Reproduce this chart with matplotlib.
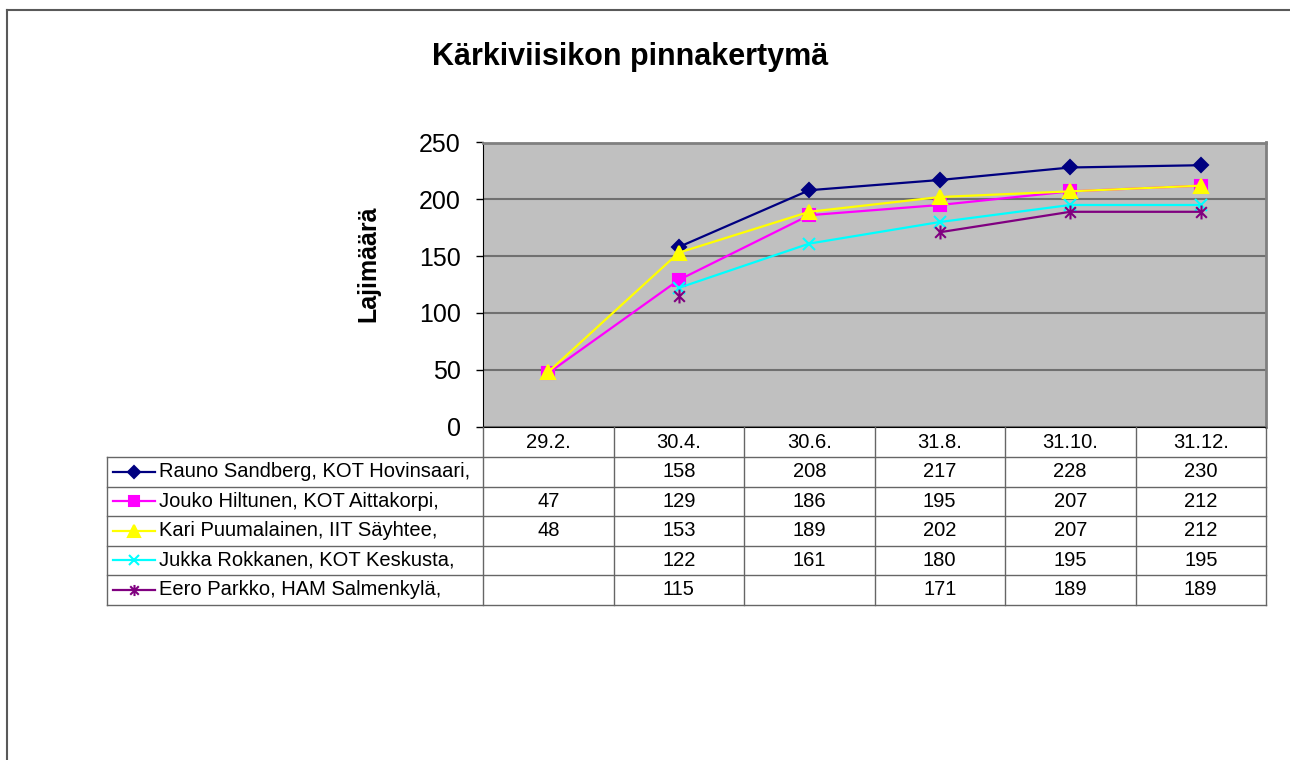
import numpy as np
import matplotlib.pyplot as plt
from matplotlib.path import Path
from matplotlib.lines import Line2D
from matplotlib.transforms import blended_transform_factory

plt.rcParams['font.family'] = ['Liberation Sans', 'DejaVu Sans']

dates = ['29.2.', '30.4.', '30.6.', '31.8.', '31.10.', '31.12.']
names = ['Rauno Sandberg, KOT Hovinsaari,',
         'Jouko Hiltunen, KOT Aittakorpi,',
         'Kari Puumalainen, IIT Säyhtee,',
         'Jukka Rokkanen, KOT Keskusta,',
         'Eero Parkko, HAM Salmenkylä,']
rauno = [np.nan, 158, 208, 217, 228, 230]
jouko = [47, 129, 186, 195, 207, 212]
kari = [48, 153, 189, 202, 207, 212]
jukka = [np.nan, 122, 161, 180, 195, 195]
eero = [np.nan, 115, np.nan, 171, 189, 189]
series = [rauno, jouko, kari, jukka, eero]

colors = ['#000080', '#FF00FF', '#FFFF00', '#00FFFF', '#800080']
star = Path([(-1, -1), (1, 1), (-1, 1), (1, -1), (0, -1.3), (0, 1.3)],
            [Path.MOVETO, Path.LINETO] * 3)
markers = ['D', 's', '^', 'x', star]
msizes = [7.5, 8.5, 10, 9, 10]

W, H = 1290, 760


def fx(px):
    return px / W


def fy(py):
    return 1 - py / H


fig = plt.figure(figsize=(12.9, 7.6), dpi=100)
ax = fig.add_axes([fx(483), fy(426.5), fx(1266) - fx(483), fy(142.5) - fy(426.5)])
ax.set_facecolor('#C0C0C0')

x = np.arange(len(dates))
for vals, c, m, ms in zip(series, colors, markers, msizes):
    ax.plot(x, vals, color=c, lw=1.6, marker=m, ms=ms, mfc=c, mec=c,
            mew=1.5, clip_on=False, zorder=3)

ax.set_xlim(-0.5, len(dates) - 0.5)
ax.set_ylim(0, 250)
ax.set_yticks(range(0, 251, 50))
ax.set_xticks([])
ax.yaxis.grid(True, color='#707070', lw=1.5)
ax.set_axisbelow(True)
ax.tick_params(axis='y', direction='out', length=5, width=1, labelsize=18, pad=11)
ax.spines['left'].set_color('black')
ax.spines['bottom'].set_color('black')
for s in ['top', 'right']:
    ax.spines[s].set_color('#808080')
    ax.spines[s].set_linewidth(2)

fig.text(fx(630), fy(57), 'Kärkiviisikon pinnakertymä', ha='center', va='center',
         fontsize=22, fontweight='bold')
fig.text(fx(368), fy(264), 'Lajimäärä', rotation=90, ha='center', va='center',
         fontsize=18, fontweight='bold')

# data table below the plot
bt = blended_transform_factory(ax.transData, fig.transFigure)
row_edges = [427, 457, 486.5, 516, 545.5, 575, 604.5]
grid_c = '#666666'
tfs = 14.5

for e in np.arange(-0.5, len(dates)):
    fig.add_artist(Line2D([e, e], [fy(427), fy(604.5)], transform=bt, color=grid_c, lw=1))
fig.add_artist(Line2D([fx(107)] * 2, [fy(457), fy(604.5)], color=grid_c, lw=1))
for r in row_edges[1:]:
    fig.add_artist(Line2D([fx(107), fx(1266)], [fy(r)] * 2, color=grid_c, lw=1))

for i, d in enumerate(dates):
    ax.text(i, fy(442), d, transform=bt, ha='center', va='center', fontsize=tfs)

for j, (name, vals) in enumerate(zip(names, series)):
    yc = (row_edges[j + 1] + row_edges[j + 2]) / 2
    fig.add_artist(Line2D([fx(113), fx(134), fx(155)], [fy(yc)] * 3, color=colors[j],
                          lw=1.6, marker=markers[j], ms=msizes[j] * 0.8,
                          mfc=colors[j], mec=colors[j], mew=1.5, markevery=[1]))
    fig.text(fx(159), fy(yc), name, ha='left', va='center', fontsize=tfs)
    for i, v in enumerate(vals):
        if not np.isnan(v):
            ax.text(i, fy(yc), str(int(v)), transform=bt, ha='center', va='center',
                    fontsize=tfs)

# outer chart frame (left and top edges)
fig.add_artist(Line2D([fx(7), fx(7)], [fy(10), 0], color='#595959', lw=1.5))
fig.add_artist(Line2D([fx(7), 1], [fy(10), fy(10)], color='#595959', lw=1.5))

fig.savefig('out.png', dpi=100)
